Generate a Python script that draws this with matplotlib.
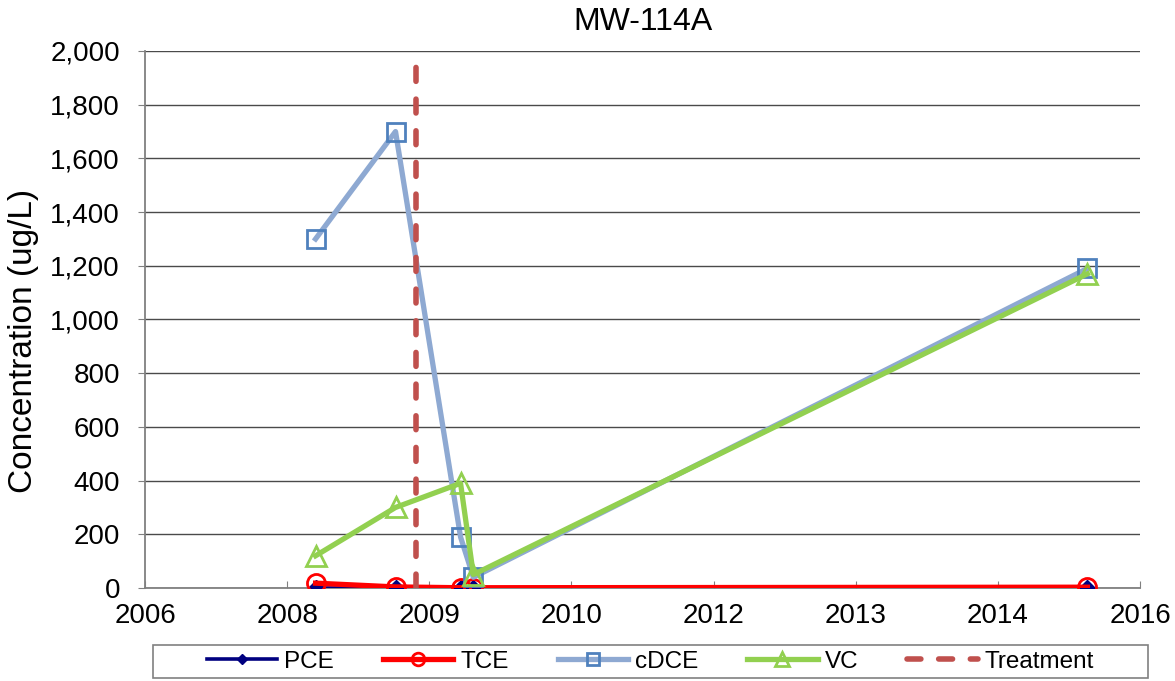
import matplotlib
matplotlib.use("Agg")
import matplotlib.pyplot as plt
from matplotlib.patches import Rectangle

plt.rcParams['font.family'] = ['Liberation Sans', 'DejaVu Sans']

# ---- data (decimal years) ----
dates = [2008.40, 2009.15, 2009.76, 2009.88, 2015.64]
pce = [1, 1, 1, 1, 1]
tce = [18, 4, 1, 1, 3]
cdce = [1300, 1700, 190, 40, 1190]
vc = [120, 300, 390, 50, 1170]
treatment_x = [2009.34, 2009.34]
treatment_y = [0, 1950]

x_min = 2006.8
x_step = 4.0 / 3.0
x_tick_labels = ['2006', '2008', '2009', '2010', '2012', '2013', '2014', '2016']
y_ticks = [0, 200, 400, 600, 800, 1000, 1200, 1400, 1600, 1800, 2000]

W, H = 1175, 681
fig = plt.figure(figsize=(W / 100, H / 100), dpi=100)
ax = fig.add_axes([145 / W, (H - 588) / H, (1140 - 145) / W, (588 - 51) / H])

lw = 3.8
ax.plot(dates, pce, color='#000080', lw=2.6, marker='D', ms=8,
        mfc='#000080', mec='#000080', label='PCE', zorder=3)
ax.plot(dates, tce, color='#FF0000', lw=lw, marker='o', ms=13,
        mfc='none', mec='#FF0000', mew=2.0, label='TCE', zorder=4)
ax.plot(dates, cdce, color='#8EA9D2', lw=lw, marker='s', ms=13,
        mfc='none', mec='#4F81BD', mew=2.0, label='cDCE', zorder=5)
ax.plot(dates, vc, color='#92D050', lw=lw, marker='^', ms=14,
        mfc='none', mec='#92D050', mew=2.0, label='VC', zorder=6)
ax.plot(treatment_x, treatment_y, color='#C0504D', lw=4.0,
        dashes=(2.5, 3.2), dash_capstyle='round', label='Treatment', zorder=7)

n_ticks = len(x_tick_labels)
xt = [x_min + k * x_step for k in range(n_ticks)]
ax.set_xlim(xt[0], xt[-1])
ax.set_xticks(xt)
ax.set_xticklabels(x_tick_labels)
ax.set_ylim(0, 2000)
ax.set_yticks(y_ticks)
ax.set_yticklabels([f"{v:,}" for v in y_ticks])

ax.yaxis.grid(True, color='#4a4a4a', lw=1.0)
ax.set_axisbelow(True)
for s in ['top', 'right']:
    ax.spines[s].set_visible(False)
for s in ['left', 'bottom']:
    ax.spines[s].set_color('#808080')
    ax.spines[s].set_linewidth(1.3)
ax.tick_params(axis='y', direction='out', length=5, color='#808080',
               labelsize=20, pad=13)
ax.tick_params(axis='x', direction='in', length=5, color='#808080',
               labelsize=20, pad=11)

ax.set_ylabel('Concentration (ug/L)', fontsize=24)
ax.yaxis.label.set_va('center')
ax.yaxis.set_label_coords(24 / W, 0.5, transform=fig.transFigure)
ax.set_title('MW-114A', fontsize=23, pad=15)

leg = fig.legend(loc='center', bbox_to_anchor=(650.5 / W, 1 - 661.5 / H),
                 ncol=5, fontsize=17.5, frameon=False,
                 handlelength=2.9, handletextpad=0.3, columnspacing=2.0,
                 markerscale=0.7)
fig.patches.append(Rectangle((153 / W, 1 - 678 / H), (1148 - 153) / W,
                             (678 - 645) / H, transform=fig.transFigure,
                             fill=False, edgecolor='#808080', lw=1.2))

fig.savefig('out.png', dpi=100)
